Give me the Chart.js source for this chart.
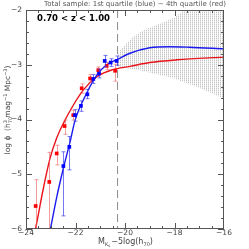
<!DOCTYPE html>
<html>
<head>
<meta charset="utf-8">
<script src="https://cdn.jsdelivr.net/npm/chart.js@4.4.1/dist/chart.umd.min.js"></script>
<style>
  html, body { margin: 0; padding: 0; background: #fff; }
  #wrap { width: 249px; height: 249px; position: relative; }
</style>
</head>
<body>
<div id="wrap"><canvas id="clx"></canvas></div>
<script>
// 4th quartile (red) points: magnitude, log phi, error bar ends
const redMag = [-23.61, -23.06, -22.76, -22.44, -22.09, -21.75, -21.41, -21.08, -20.74, -20.40];
const redPhi = [-5.58, -5.14, -4.62, -4.12, -3.92, -3.43, -3.25, -3.10, -3.02, -3.11];
const redUp  = [-5.10, -4.60, -4.47, -4.01, -3.83, -3.35, -3.18, -3.04, -2.96, -2.99];
const redLow = [-6.30, -6.30, -4.83, -4.27, -4.01, -3.52, -3.32, -3.16, -3.09, -3.30];

// 1st quartile (blue) points
const blueMag = [-22.49, -22.25, -22.02, -21.78, -21.52, -21.28, -21.05, -20.82, -20.58, -20.34];
const bluePhi = [-4.85, -4.50, -3.92, -3.75, -3.54, -3.26, -3.16, -2.93, -2.96, -2.93];
const blueUp  = [-4.59, -4.31, -3.82, -3.66, -3.45, -3.18, -3.08, -2.83, -2.89, -2.84];
const blueLow = [-5.76, -4.92, -4.03, -3.85, -3.62, -3.34, -3.24, -3.03, -3.03, -3.01];

// fitted curves
const redFitMag = [-23.66, -23.6, -23.3, -23.03, -22.76, -22.49, -22.09, -21.68, -21.14, -20.5, -19.8, -19.0, -17.9, -16.0];
const redFitPhi = [-6.08, -5.96, -5.26, -4.71, -4.34, -4.07, -3.74, -3.46, -3.22, -3.09, -3.03, -2.96, -2.91, -2.86];
const blueFitMag = [-23.05, -23.0, -22.75, -22.49, -22.22, -22.02, -21.55, -21.14, -20.74, -20.3, -19.8, -19.0, -18.2, -17.4, -16.0];
const blueFitPhi = [-6.08, -5.97, -5.40, -4.89, -4.41, -4.02, -3.52, -3.19, -3.00, -2.90, -2.79, -2.69, -2.67, -2.68, -2.71];

// grey uncertainty fan beyond the completeness limit
const bandMag = [-20.3, -20.2, -19.7, -19.3, -18.6, -18.0, -17.6, -16.0];
const bandTop = [-2.84, -2.74, -2.50, -2.38, -2.25, -2.14, -2.0, -1.6];
const bandBottomMag = [-20.3, -19.4, -18.06, -17.0, -16.0];
const bandBottom = [-3.03, -3.10, -3.24, -3.42, -3.62];

const cutMag = -20.3;
const xTicks = [-24, -22, -20, -18, -16];
const yTicks = [-2, -3, -4, -5, -6];

const toXY = (xs, ys) => xs.map((x, i) => ({ x: x, y: ys[i] }));

function hatchPattern() {
  const c = document.createElement('canvas');
  c.width = 2; c.height = 2;
  const g = c.getContext('2d');
  g.fillStyle = '#fff';
  g.fillRect(0, 0, 2, 2);
  g.fillStyle = '#c4c4c4';
  g.fillRect(0, 0, 1, 1);
  g.fillStyle = '#e6e6e6';
  g.fillRect(0, 1, 1, 1);
  return document.getElementById('clx').getContext('2d').createPattern(c, 'repeat');
}

const minus = v => (v < 0 ? '\u2212' + Math.abs(v) : '' + v);

// inward ticks on all four sides, plus the frame and texts
const frameTicks = {
  id: 'frameTicks',
  afterDraw(chart) {
    const { ctx, chartArea: a, scales } = chart;
    const sx = scales.x, sy = scales.y;
    ctx.save();
    ctx.strokeStyle = '#555';
    ctx.lineWidth = 1;
    ctx.strokeRect(a.left + 0.5, a.top + 0.5, a.right - a.left - 1, a.bottom - a.top - 1);
    ctx.beginPath();
    for (let m = -24; m <= -16.001; m += 0.5) {
      const px = Math.round(sx.getPixelForValue(m)) + 0.5;
      const len = Math.abs(m % 2) < 0.01 ? 6 : 3;
      ctx.moveTo(px, a.bottom); ctx.lineTo(px, a.bottom - len);
      ctx.moveTo(px, a.top); ctx.lineTo(px, a.top + len);
    }
    for (let k = 0; k <= 20; k++) {
      const v = -6 + k * 0.2;
      const py = Math.round(sy.getPixelForValue(v)) + 0.5;
      const len = k % 5 === 0 ? 6 : 3;
      ctx.moveTo(a.left, py); ctx.lineTo(a.left + len, py);
      ctx.moveTo(a.right, py); ctx.lineTo(a.right - len, py);
    }
    ctx.stroke();

    ctx.fillStyle = '#555';
    ctx.font = '7px "DejaVu Sans"';
    ctx.textAlign = 'center';
    ctx.textBaseline = 'middle';
    ctx.fillText('Total sample: 1st quartile (blue) \u2212 4th quartile (red)', (a.left + a.right) / 2 + 10, 4);

    ctx.fillStyle = '#000';
    ctx.font = 'bold 8.5px "DejaVu Sans"';
    ctx.textAlign = 'left';
    ctx.fillText('0.70 < z < 1.00', a.left + 11, a.top + 9);

    // x title: M_Ks - 5log(h70)
    ctx.fillStyle = '#444';
    ctx.textBaseline = 'alphabetic';
    let x0 = 98, yb = 244;
    ctx.font = '8px "DejaVu Sans"';
    ctx.fillText('M', x0, yb); x0 += ctx.measureText('M').width;
    ctx.font = '5px "DejaVu Sans"';
    ctx.fillText('K', x0, yb + 2); x0 += ctx.measureText('K').width;
    ctx.font = '4px "DejaVu Sans"';
    ctx.fillText('s', x0, yb + 3); x0 += ctx.measureText('s').width + 1;
    ctx.font = '8px "DejaVu Sans"';
    ctx.fillText('\u22125log(h', x0, yb); x0 += ctx.measureText('\u22125log(h').width;
    ctx.font = '5px "DejaVu Sans"';
    ctx.fillText('70', x0, yb + 2); x0 += ctx.measureText('70').width;
    ctx.font = '8px "DejaVu Sans"';
    ctx.fillText(')', x0, yb);

    // y title, rotated
    ctx.translate(7, 110);
    ctx.rotate(-Math.PI / 2);
    const parts = [
      ['log \u03d5  (h', 7.5, 0], ['3', 5, -3], ['70', 5, 2], [' mag', 7.5, 0], ['\u22121', 5, -3],
      [' Mpc', 7.5, 0], ['\u22123', 5, -3], [')', 7.5, 0]
    ];
    let w = 0;
    parts.forEach(p => { ctx.font = p[1] + 'px "DejaVu Sans"'; w += (p[0] === '70' ? 0 : ctx.measureText(p[0]).width); });
    let cx = -w / 2, supX = 0;
    parts.forEach(p => {
      ctx.font = p[1] + 'px "DejaVu Sans"';
      if (p[0] === '70') { ctx.fillText(p[0], supX, p[2] + 3); return; }
      if (p[0] === '3') supX = cx;
      ctx.fillText(p[0], cx, 3 + p[2]);
      cx += ctx.measureText(p[0]).width;
    });
    ctx.restore();
  }
};

// error bars drawn under the square markers
const errorBars = {
  id: 'errorBars',
  beforeDatasetDraw(chart, args) {
    const ds = chart.data.datasets[args.index];
    if (!ds.errUp) return;
    const { ctx, chartArea: a, scales } = chart;
    ctx.save();
    ctx.beginPath();
    ctx.rect(a.left, a.top, a.right - a.left, a.bottom - a.top);
    ctx.clip();
    ctx.strokeStyle = ds.errColor;
    ctx.lineWidth = 1;
    ctx.beginPath();
    ds.data.forEach((p, i) => {
      const px = Math.round(scales.x.getPixelForValue(p.x)) + 0.5;
      const y1 = scales.y.getPixelForValue(ds.errUp[i]);
      const y2 = scales.y.getPixelForValue(ds.errLow[i]);
      ctx.moveTo(px, y1); ctx.lineTo(px, y2);
      ctx.moveTo(px - 2, y1); ctx.lineTo(px + 2, y1);
      ctx.moveTo(px - 2, y2); ctx.lineTo(px + 2, y2);
    });
    ctx.stroke();
    ctx.restore();
  }
};

const config = {
  type: 'scatter',
  data: {
    datasets: [
      { data: toXY(bandMag, bandTop), showLine: true, fill: 1, backgroundColor: hatchPattern(),
        borderWidth: 0, pointRadius: 0, order: 10 },
      { data: toXY(bandBottomMag, bandBottom), showLine: true, borderWidth: 0, pointRadius: 0, order: 10 },
      { data: toXY(redFitMag, redFitPhi), showLine: true, borderColor: '#e8141a', borderWidth: 1.4,
        pointRadius: 0, cubicInterpolationMode: 'monotone', order: 4 },
      { data: toXY(blueFitMag, blueFitPhi), showLine: true, borderColor: '#1a1aee', borderWidth: 1.4,
        pointRadius: 0, cubicInterpolationMode: 'monotone', order: 3 },
      { data: [{ x: cutMag, y: -2 }, { x: cutMag, y: -6 }], showLine: true, borderColor: '#8a8a8a',
        borderWidth: 1, borderDash: [8, 4], pointRadius: 0, order: 5 },
      { data: toXY(redMag, redPhi), errUp: redUp, errLow: redLow, errColor: 'rgba(240,90,90,0.6)',
        pointStyle: 'rect', pointRadius: 2.6, backgroundColor: '#ff0000', borderWidth: 0, order: 2 },
      { data: toXY(blueMag, bluePhi), errUp: blueUp, errLow: blueLow, errColor: 'rgba(60,60,240,0.7)',
        pointStyle: 'rect', pointRadius: 2.6, backgroundColor: '#0000ff', borderWidth: 0, order: 1 }
    ]
  },
  options: {
    responsive: true,
    maintainAspectRatio: false,
    animation: false,
    layout: { padding: { top: 10, right: 25, left: 0, bottom: 0 } },
    plugins: { legend: { display: false }, tooltip: { enabled: false } },
    scales: {
      x: {
        type: 'linear', min: -24, max: -16,
        grid: { display: false, drawTicks: false, tickLength: 0 }, border: { display: false },
        afterBuildTicks: s => { s.ticks = xTicks.map(v => ({ value: v })); },
        afterFit: s => { s.height = 20; },
        ticks: { autoSkip: false, maxRotation: 0, padding: 0, color: '#444',
          font: { family: 'DejaVu Sans', size: 7.5 }, callback: minus }
      },
      y: {
        type: 'linear', min: -6, max: -2,
        grid: { display: false, drawTicks: false, tickLength: 0 }, border: { display: false },
        afterBuildTicks: s => { s.ticks = yTicks.map(v => ({ value: v })); },
        afterFit: s => { s.width = 26; },
        ticks: { autoSkip: false, padding: 4, color: '#444',
          font: { family: 'DejaVu Sans', size: 7.5 }, callback: minus }
      }
    }
  },
  plugins: [errorBars, frameTicks]
};

new Chart(document.getElementById('clx'), config);
</script>
</body>
</html>
